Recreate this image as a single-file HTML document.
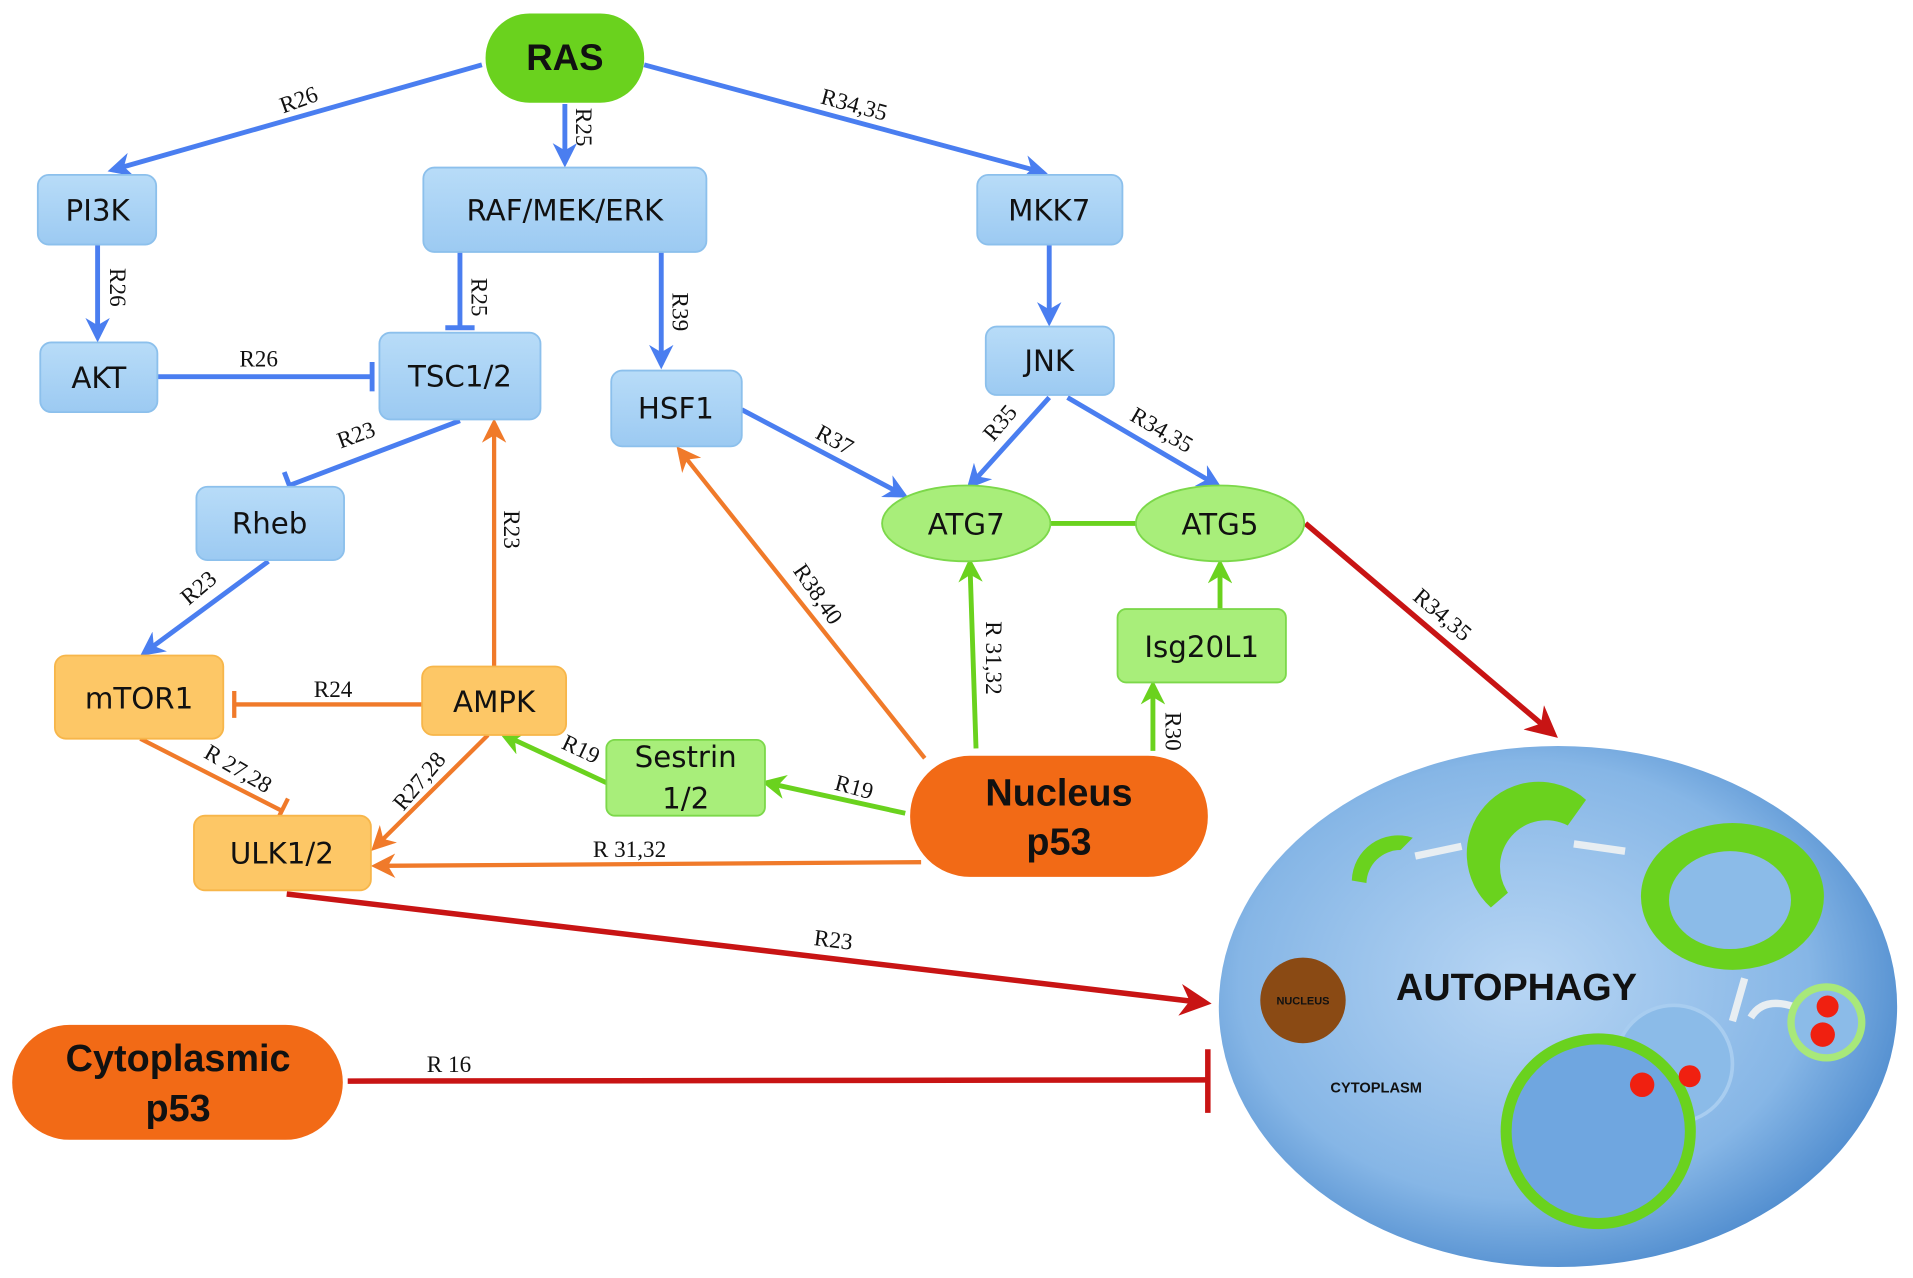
<!DOCTYPE html>
<html><head><meta charset="utf-8"><style>
html,body{margin:0;padding:0;background:#fff;}
svg{display:block}
.n{font-family:"DejaVu Sans","Liberation Sans",sans-serif;font-size:24px;fill:#111;text-anchor:middle;dominant-baseline:central}
.b{font-family:"Liberation Sans",sans-serif;font-weight:bold;fill:#111;text-anchor:middle;dominant-baseline:central}
.l{font-family:"Liberation Serif",serif;font-size:19px;fill:#111;text-anchor:middle;dominant-baseline:central}
</style></head><body>
<svg width="1913" height="1278" viewBox="0 0 1568 1045" preserveAspectRatio="none" xmlns="http://www.w3.org/2000/svg">
<defs>
<marker id="ab" viewBox="0 0 10 10" markerWidth="20" markerHeight="20" refX="8" refY="5" orient="auto" markerUnits="userSpaceOnUse"><path d="M0,0 L10,5 L0,10 L3,5z" fill="#4a7ef0"/></marker>
<marker id="ao" viewBox="0 0 10 10" markerWidth="20" markerHeight="20" refX="8" refY="5" orient="auto" markerUnits="userSpaceOnUse"><path d="M0,0 L10,5 L0,10 L3,5z" fill="#f07a2a"/></marker>
<marker id="ag" viewBox="0 0 10 10" markerWidth="20" markerHeight="20" refX="8" refY="5" orient="auto" markerUnits="userSpaceOnUse"><path d="M0,0 L10,5 L0,10 L3,5z" fill="#6ad21e"/></marker>
<marker id="ar" viewBox="0 0 10 10" markerWidth="26" markerHeight="26" refX="8" refY="5" orient="auto" markerUnits="userSpaceOnUse"><path d="M0,0 L10,5 L0,10 L3,5z" fill="#c81414"/></marker>
<radialGradient id="cell" cx="45%" cy="45%" r="60%"><stop offset="0" stop-color="#b8d6f4"/><stop offset="0.7" stop-color="#86b6e6"/><stop offset="1" stop-color="#4a88cc"/></radialGradient>
<linearGradient id="bx" x1="0" y1="0" x2="0" y2="1"><stop offset="0" stop-color="#b8dcf8"/><stop offset="1" stop-color="#9ccaf2"/></linearGradient>
</defs>
<style>.bl{stroke:#4a7ef0;stroke-width:4;fill:none}.or{stroke:#f07a2a;stroke-width:3.5;fill:none}.gr{stroke:#6ad21e;stroke-width:4;fill:none}.rd{stroke:#c81414;stroke-width:4.5;fill:none}</style>

<line class="bl" x1="395" y1="53" x2="92" y2="139" marker-end="url(#ab)"/>
<line class="bl" x1="463" y1="85" x2="463" y2="133" marker-end="url(#ab)"/>
<line class="bl" x1="528" y1="53" x2="855" y2="141" marker-end="url(#ab)"/>
<line class="bl" x1="80" y1="200" x2="80" y2="276" marker-end="url(#ab)"/>
<line class="bl" x1="377" y1="206" x2="377" y2="268"/><line class="bl" x1="365" y1="268" x2="389" y2="268"/>
<line class="bl" x1="542" y1="206" x2="542" y2="298" marker-end="url(#ab)"/>
<line class="bl" x1="860" y1="200" x2="860" y2="263" marker-end="url(#ab)"/>
<line class="bl" x1="129" y1="308" x2="305" y2="308"/><line class="bl" x1="305" y1="296" x2="305" y2="320"/>
<line class="bl" x1="377" y1="344" x2="237" y2="397"/><line class="bl" x1="233" y1="386" x2="241" y2="407"/>
<line class="bl" x1="608" y1="335" x2="741" y2="405" marker-end="url(#ab)"/>
<line class="bl" x1="860" y1="325" x2="795" y2="397" marker-end="url(#ab)"/>
<line class="bl" x1="875" y1="325" x2="998" y2="397" marker-end="url(#ab)"/>
<line class="bl" x1="220" y1="459" x2="118" y2="534" marker-end="url(#ab)"/>

<line class="or" x1="405" y1="545" x2="405" y2="346" marker-end="url(#ao)"/>
<line class="or" x1="346" y1="576" x2="192" y2="576"/><line class="or" x1="192" y1="565" x2="192" y2="587"/>
<line class="or" x1="115" y1="604" x2="231" y2="663"/><line class="or" x1="226" y1="673" x2="236" y2="653"/>
<line class="or" x1="400" y1="601" x2="307" y2="693" marker-end="url(#ao)"/>
<line class="or" x1="758" y1="620" x2="557" y2="368" marker-end="url(#ao)"/>
<line class="or" x1="755" y1="705" x2="308" y2="708" marker-end="url(#ao)"/>

<line class="gr" x1="860" y1="428" x2="932" y2="428"/>
<line class="gr" x1="1000" y1="498" x2="1000" y2="461" marker-end="url(#ag)"/>
<line class="gr" x1="497" y1="640" x2="413" y2="601" marker-end="url(#ag)"/>
<line class="gr" x1="742" y1="665" x2="628" y2="640" marker-end="url(#ag)"/>
<line class="gr" x1="800" y1="612" x2="795" y2="460" marker-end="url(#ag)"/>
<line class="gr" x1="945" y1="614" x2="945" y2="560" marker-end="url(#ag)"/>

<line class="rd" x1="1070" y1="428" x2="1273" y2="600" marker-end="url(#ar)"/>
<line class="rd" x1="235" y1="731" x2="988" y2="820" marker-end="url(#ar)"/>
<line class="rd" x1="285" y1="884" x2="990" y2="883"/><line class="rd" x1="990" y1="858" x2="990" y2="910"/>

<ellipse cx="1277" cy="823" rx="278" ry="213" fill="url(#cell)"/>
<path d="M1108,720 A38,38 0 0 1 1158,685 L1148,695 A28,28 0 0 0 1120,722z" fill="#6ad21e"/>
<path d="M1160,700 L1198,692" stroke="#e8eef2" stroke-width="6"/>
<path d="M1222,742 A58,58 0 0 1 1300,654 L1285,675 A38,38 0 0 0 1236,730z" fill="#6ad21e"/>
<path d="M1290,690 L1332,696" stroke="#e8eef2" stroke-width="6"/>
<ellipse cx="1420" cy="733" rx="75" ry="60" fill="#6ad21e"/>
<ellipse cx="1418" cy="736" rx="50" ry="40" fill="#8bbbe8"/>
<path d="M1430,800 L1420,835 M1470,823 Q1445,815 1435,832" stroke="#e8eef2" stroke-width="6" fill="none"/>
<circle cx="1497" cy="836" r="32" fill="#a8e87a"/><circle cx="1497" cy="836" r="26" fill="#8bbbe8"/>
<circle cx="1498" cy="823" r="9" fill="#f02010"/><circle cx="1494" cy="846" r="10" fill="#f02010"/>
<circle cx="1372" cy="870" r="48" fill="#8bbbe8" stroke="#a8cdf0" stroke-width="3"/>
<circle cx="1310" cy="925" r="80" fill="#6ad21e"/><circle cx="1310" cy="925" r="71" fill="#6fa6e0"/>
<circle cx="1346" cy="887" r="10" fill="#f02010"/><circle cx="1385" cy="880" r="9" fill="#f02010"/>
<circle cx="1068" cy="818" r="35" fill="#8a4a14"/>
<text x="1068" y="819" class="b" style="font-size:9px">NUCLEUS</text>
<text x="1243" y="808" class="b" style="font-size:31px">AUTOPHAGY</text>
<text x="1128" y="890" class="b" style="font-size:12px">CYTOPLASM</text>

<rect x="398" y="11" width="130" height="73" rx="36" fill="#6ad21e"/>
<text x="463" y="47" class="b" style="font-size:30px">RAS</text>
<g fill="url(#bx)" stroke="#8cc0ec" stroke-width="1.5">
<rect x="31" y="143" width="97" height="57" rx="9"/>
<rect x="347" y="137" width="232" height="69" rx="9"/>
<rect x="801" y="143" width="119" height="57" rx="9"/>
<rect x="33" y="280" width="96" height="57" rx="9"/>
<rect x="311" y="272" width="132" height="71" rx="9"/>
<rect x="501" y="303" width="107" height="62" rx="9"/>
<rect x="808" y="267" width="105" height="56" rx="9"/>
<rect x="161" y="398" width="121" height="60" rx="9"/>
</g>
<g fill="#a8ee7a" stroke="#7cd84a" stroke-width="1.5">
<ellipse cx="792" cy="428" rx="69" ry="31"/>
<ellipse cx="1000" cy="428" rx="69" ry="31"/>
<rect x="916" y="498" width="138" height="60" rx="7"/>
<rect x="497" y="605" width="130" height="62" rx="7"/>
</g>
<g fill="#fdc766" stroke="#f7b64a" stroke-width="1.5">
<rect x="45" y="536" width="138" height="68" rx="9"/>
<rect x="346" y="545" width="118" height="56" rx="9"/>
<rect x="159" y="667" width="145" height="61" rx="9"/>
</g>
<rect x="746" y="618" width="244" height="99" rx="49" fill="#f26a16"/>
<rect x="10" y="838" width="271" height="94" rx="47" fill="#f26a16"/>
<text x="80" y="172" class="n">PI3K</text>
<text x="463" y="172" class="n">RAF/MEK/ERK</text>
<text x="860" y="172" class="n">MKK7</text>
<text x="81" y="309" class="n">AKT</text>
<text x="377" y="308" class="n">TSC1/2</text>
<text x="554" y="334" class="n">HSF1</text>
<text x="860" y="295" class="n">JNK</text>
<text x="221" y="428" class="n">Rheb</text>
<text x="792" y="429" class="n">ATG7</text>
<text x="1000" y="429" class="n">ATG5</text>
<text x="985" y="529" class="n">Isg20L1</text>
<text x="562" y="619" class="n">Sestrin</text>
<text x="562" y="653" class="n">1/2</text>
<text x="114" y="571" class="n">mTOR1</text>
<text x="405" y="574" class="n">AMPK</text>
<text x="231" y="698" class="n">ULK1/2</text>
<text x="868" y="649" class="b" style="font-size:31px">Nucleus</text>
<text x="868" y="689" class="b" style="font-size:31px">p53</text>
<text x="146" y="866" class="b" style="font-size:31px">Cytoplasmic</text>
<text x="146" y="907" class="b" style="font-size:31px">p53</text>

<text class="l" transform="translate(245,82) rotate(-20)">R26</text>
<text class="l" transform="translate(478,104) rotate(90)">R25</text>
<text class="l" transform="translate(700,86) rotate(15)">R34,35</text>
<text class="l" transform="translate(96,235) rotate(90)">R26</text>
<text class="l" transform="translate(392,243) rotate(90)">R25</text>
<text class="l" transform="translate(557,255) rotate(90)">R39</text>
<text class="l" x="212" y="294">R26</text>
<text class="l" transform="translate(292,356) rotate(-20)">R23</text>
<text class="l" transform="translate(684,360) rotate(28)">R37</text>
<text class="l" transform="translate(820,346) rotate(-50)">R35</text>
<text class="l" transform="translate(952,352) rotate(30)">R34,35</text>
<text class="l" transform="translate(1182,503) rotate(40)">R34,35</text>
<text class="l" transform="translate(163,481) rotate(-40)">R23</text>
<text class="l" transform="translate(419,433) rotate(90)">R23</text>
<text class="l" x="273" y="564">R24</text>
<text class="l" transform="translate(195,629) rotate(30)">R 27,28</text>
<text class="l" transform="translate(344,639) rotate(-50)">R27,28</text>
<text class="l" transform="translate(476,613) rotate(25)">R19</text>
<text class="l" transform="translate(700,644) rotate(15)">R19</text>
<text class="l" transform="translate(670,486) rotate(55)">R38,40</text>
<text class="l" transform="translate(814,538) rotate(90)">R 31,32</text>
<text class="l" transform="translate(961,598) rotate(90)">R30</text>
<text class="l" x="516" y="695">R 31,32</text>
<text class="l" transform="translate(683,769) rotate(7)">R23</text>
<text class="l" x="368" y="871">R 16</text>
</svg>
</body></html>
